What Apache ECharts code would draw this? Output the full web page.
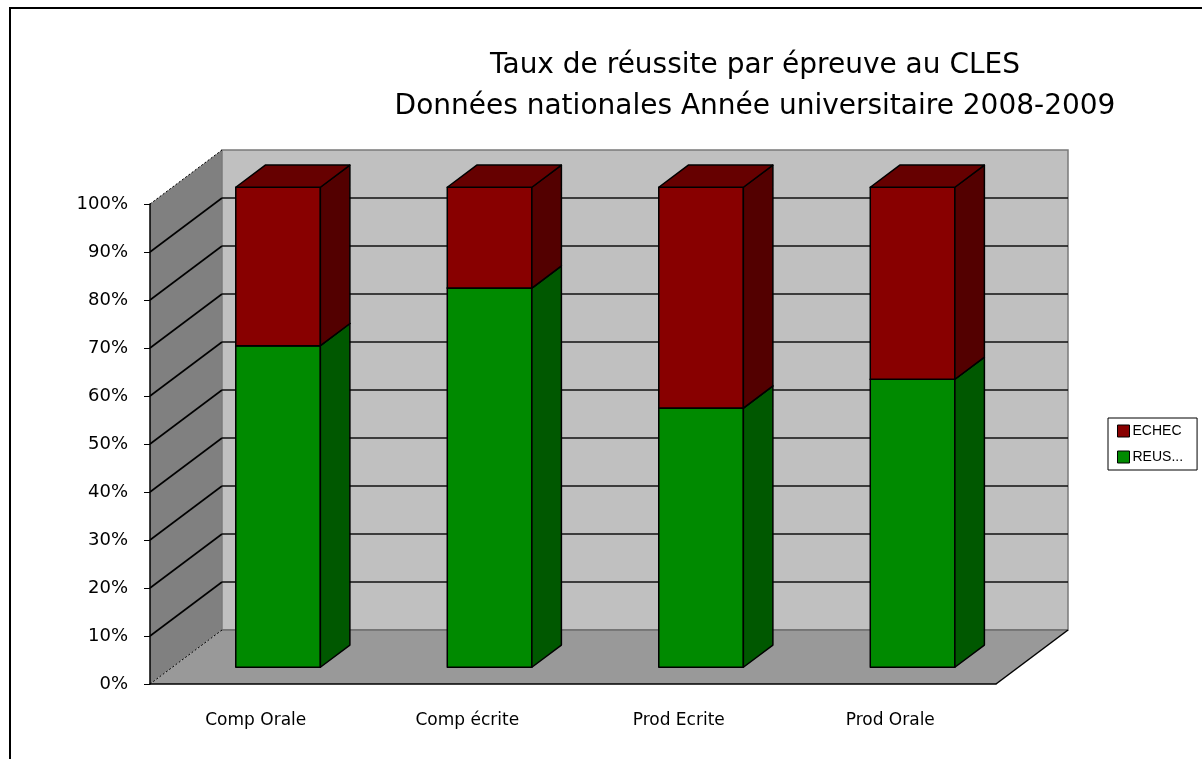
<!DOCTYPE html>
<html lang="fr">
<head>
    <meta charset="UTF-8">
    <title>Taux de réussite par épreuve au CLES</title>
    <script src="https://cdn.jsdelivr.net/npm/echarts@6/dist/echarts.min.js"></script>
    <style>
        html, body { margin: 0; padding: 0; background: #fff; }
        #chart { width: 1202px; height: 759px; }
    </style>
</head>
<body>
    <div id="chart"></div>
    <script>
        // données
        const categories = ['Comp Orale', 'Comp écrite', 'Prod Ecrite', 'Prod Orale'];
        const reussite = [67, 79, 54, 60];
        const echec = [33, 21, 46, 40];
        const yTicks = [0, 10, 20, 30, 40, 50, 60, 70, 80, 90, 100];

        // profondeur de la vue 3D (pixels)
        const DX = 72, DY = -54;
        const F0 = 0.31, F1 = 0.72;   // avant / arrière des barres dans la profondeur
        const BAR_RATIO = 0.40;

        const chart = echarts.init(document.getElementById('chart'));

        // murs, sol et lignes de quadrillage
        function renderWalls(params, api) {
            const cs = params.coordSys;
            const x0 = cs.x, x1 = cs.x + cs.width;
            const yT = cs.y, yB = cs.y + cs.height;
            const children = [
                { type: 'polygon', shape: { points: [[x0, yB], [x0, yT], [x0 + DX, yT + DY], [x0 + DX, yB + DY]] },
                  style: { fill: '#808080' } },
                { type: 'polygon', shape: { points: [[x0 + DX, yT + DY], [x1 + DX, yT + DY], [x1 + DX, yB + DY], [x0 + DX, yB + DY]] },
                  style: { fill: '#c0c0c0', stroke: '#7a7a7a', lineWidth: 1.5 } },
                { type: 'polygon', shape: { points: [[x0, yB], [x1, yB], [x1 + DX, yB + DY], [x0 + DX, yB + DY]] },
                  style: { fill: '#999999' } },
                { type: 'line', shape: { x1: x0 + DX, y1: yB + DY, x2: x1 + DX, y2: yB + DY },
                  style: { stroke: '#6e6e6e', lineWidth: 1.5 } },
                { type: 'line', shape: { x1: x1, y1: yB, x2: x1 + DX, y2: yB + DY },
                  style: { stroke: '#000', lineWidth: 1.5 } }
            ];
            yTicks.forEach(v => {
                const y = api.coord([0, v])[1];
                const edge = (v === 0 || v === 100);
                children.push({ type: 'line', shape: { x1: x0, y1: y, x2: x0 + DX, y2: y + DY },
                    style: { stroke: '#000', lineWidth: edge ? 1 : 1.6, lineDash: edge ? [2, 2] : null } });
                if (!edge) {
                    children.push({ type: 'line', shape: { x1: x0 + DX, y1: y + DY, x2: x1 + DX, y2: y + DY },
                        style: { stroke: '#111', lineWidth: 1.6 } });
                }
            });
            return { type: 'group', children: children };
        }

        const faceColors = {
            REUSSITE: { front: '#008a00', side: '#005800', top: '#006a00' },
            ECHEC: { front: '#880000', side: '#530000', top: '#660000' }
        };

        function renderBar(params, api) {
            const i = api.value(0);
            const lo = api.value(1), hi = api.value(2);
            const band = api.size([1, 0])[0];
            const w = band * BAR_RATIO;
            const pLo = api.coord([i, lo]);
            const pHi = api.coord([i, hi]);
            const xl = pLo[0] - w / 2 + DX * F0, xr = xl + w;
            const yb = pLo[1] + DY * F0, yt = pHi[1] + DY * F0;
            const bx = DX * (F1 - F0), by = DY * (F1 - F0);
            const c = faceColors[params.seriesName];
            const line = { stroke: '#000', lineWidth: 1.5, lineJoin: 'round' };
            return {
                type: 'group',
                children: [
                    { type: 'polygon', shape: { points: [[xl, yb], [xr, yb], [xr, yt], [xl, yt]] },
                      style: Object.assign({ fill: c.front }, line) },
                    { type: 'polygon', shape: { points: [[xr, yb], [xr, yt], [xr + bx, yt + by], [xr + bx, yb + by]] },
                      style: Object.assign({ fill: c.side }, line) },
                    { type: 'polygon', shape: { points: [[xl, yt], [xr, yt], [xr + bx, yt + by], [xl + bx, yt + by]] },
                      style: Object.assign({ fill: c.top }, line) }
                ]
            };
        }

        const option = {
            animation: false,
            backgroundColor: '#fff',
            title: {
                text: 'Taux de réussite par épreuve au CLES\nDonnées nationales Année universitaire 2008-2009',
                left: 750,
                top: 40,
                textAlign: 'center',
                textStyle: {
                    fontFamily: 'DejaVu Sans',
                    fontSize: 28,
                    fontWeight: 'normal',
                    color: '#000',
                    lineHeight: 41
                }
            },
            legend: {
                data: ['ECHEC', 'REUSSITE'],
                orient: 'vertical',
                left: 1108,
                top: 418,
                padding: [6, 14, 6, 9],
                itemGap: 12,
                itemWidth: 12,
                itemHeight: 12,
                icon: 'rect',
                borderColor: '#000',
                borderWidth: 1,
                itemStyle: { borderColor: '#000', borderWidth: 1 },
                formatter: name => name.length > 6 ? name.slice(0, 4) + '...' : name,
                textStyle: { fontFamily: 'Liberation Sans', fontSize: 14, color: '#000', padding: [0, 0, 0, -2] }
            },
            grid: { left: 150, right: 206, top: 204, bottom: 75 },
            xAxis: {
                type: 'category',
                data: categories,
                z: 10,
                axisLine: { lineStyle: { color: '#000', width: 1.5 } },
                axisTick: { length: 8, lineStyle: { color: '#000' } },
                axisLabel: { margin: 28, fontFamily: 'DejaVu Sans', fontSize: 17, color: '#000' }
            },
            yAxis: {
                type: 'value',
                min: 0,
                max: 100,
                interval: 10,
                z: 10,
                axisLine: { show: true, lineStyle: { color: '#000', width: 1.5 } },
                axisTick: { show: true, length: 6, lineStyle: { color: '#000' } },
                splitLine: { show: false },
                axisLabel: { formatter: '{value}%', margin: 22, fontFamily: 'DejaVu Sans', fontSize: 18, color: '#000' }
            },
            graphic: [{
                type: 'rect',
                shape: { x: 10, y: 8, width: 1300, height: 900 },
                style: { fill: null, stroke: '#000', lineWidth: 2 },
                silent: true
            }],
            series: [
                {
                    name: 'walls',
                    type: 'custom',
                    z: 1,
                    renderItem: renderWalls,
                    data: [[0, 0]],
                    silent: true
                },
                {
                    name: 'REUSSITE',
                    type: 'custom',
                    z: 2,
                    itemStyle: { color: '#008a00' },
                    renderItem: renderBar,
                    encode: { x: 0, y: [1, 2] },
                    data: categories.map((c, i) => [i, 0, reussite[i]])
                },
                {
                    name: 'ECHEC',
                    type: 'custom',
                    z: 3,
                    itemStyle: { color: '#880000' },
                    renderItem: renderBar,
                    encode: { x: 0, y: [1, 2] },
                    data: categories.map((c, i) => [i, reussite[i], reussite[i] + echec[i]])
                }
            ]
        };
        chart.setOption(option);
    </script>
</body>
</html>
